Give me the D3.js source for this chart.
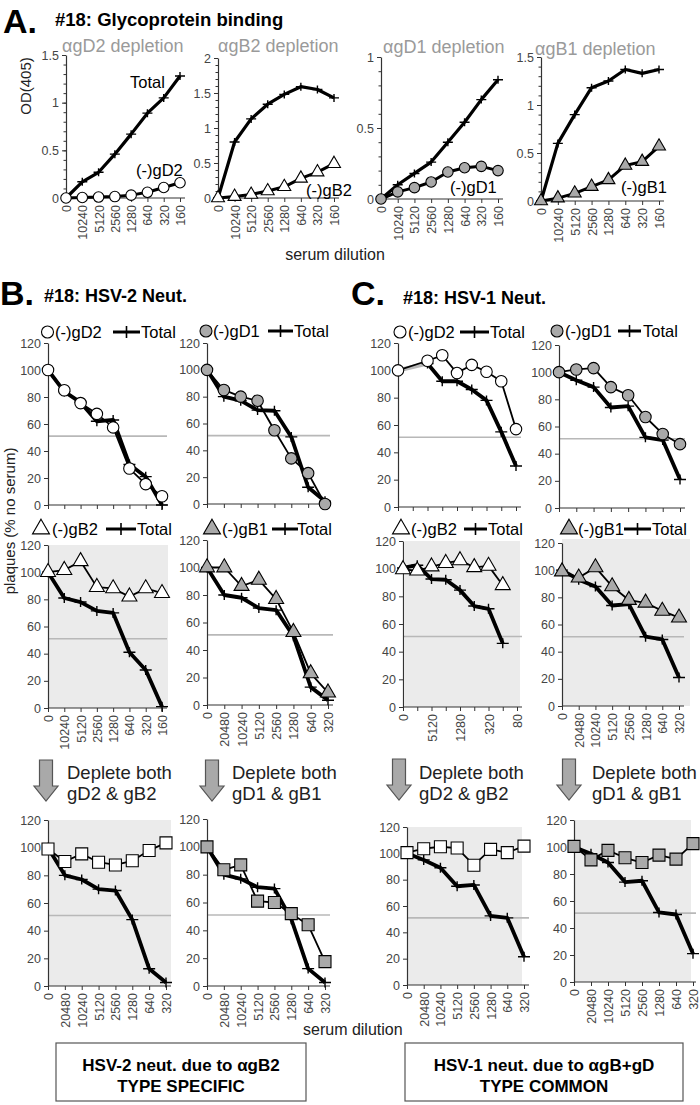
<!DOCTYPE html>
<html><head><meta charset="utf-8">
<script src="https://cdn.jsdelivr.net/npm/d3@7"></script>
<style>body{margin:0;background:#fff}svg{display:block;font-family:"Liberation Sans",Arial,Helvetica,sans-serif}</style>
</head><body><svg id="c" width="700" height="1105"></svg>
<script>
// ---------- categories / tick labels ----------
const dilA = ["0","10240","5120","2560","1280","640","320","160"];
const dil20480 = ["0","20480","10240","5120","2560","1280","640","320"];
const dilC80 = ["0","10240","5120","2560","1280","640","320","160","80"];
const dilC80Shown = ["0","","5120","","1280","","320","","80"];

// ---------- Panel A: OD(405) ----------
const aD2Total = [0, 0.17, 0.27, 0.46, 0.67, 0.89, 1.05, 1.28];
const aD2Dep   = [0, 0.005, 0.01, 0.015, 0.03, 0.06, 0.11, 0.16];
const aB2Total = [0, 0.80, 1.13, 1.34, 1.48, 1.59, 1.55, 1.43];
const aB2Dep   = [0, 0.02, 0.05, 0.10, 0.16, 0.28, 0.37, 0.49];
const aD1Total = [0, 0.10, 0.18, 0.26, 0.40, 0.54, 0.70, 0.84];
const aD1Dep   = [0, 0.05, 0.08, 0.12, 0.19, 0.22, 0.23, 0.20];
const aB1Total = [0, 0.60, 0.90, 1.18, 1.25, 1.37, 1.33, 1.37];
const aB1Dep   = [0, 0.03, 0.08, 0.15, 0.22, 0.37, 0.41, 0.57];

// ---------- Panel B: HSV-2 neut (% no serum) ----------
const bGD2    = [100, 85, 75.5, 67.5, 57.5, 27, 15.5, 6.5];
const bGD2Tot = [100, 84, 76, 62, 63, 30, 21, 0];
const bGD1    = [100, 85, 80, 77, 55, 34, 23, 0];
const bGD1Tot = [100, 80, 77, 70, 69.5, 50, 12.5, 2];
const bGB2    = [100, 101.5, 108, 89, 88, 82, 88, 84.5];
const bGB2Tot = [100, 81, 78, 71.5, 70, 41, 28, 1];
const bGB1    = [100, 100, 86.5, 91, 77, 53, 23, 9];
const bGB1Tot = [100, 80, 78, 70.5, 69, 50, 13, 3.5];
const bBoth2    = [99, 90, 95.5, 89.5, 87.5, 90.5, 98, 103.5];
const bBoth2Tot = [100, 80, 77, 70, 69, 48, 12.5, 2.5];
const bBoth1    = [100, 83.5, 87, 61, 60, 52, 44, 17.5];
const bBoth1Tot = [100, 80, 77, 71, 70, 48, 12.5, 2.5];

// ---------- Panel C: HSV-1 neut (% no serum) ----------
const cGD2    = [100, null, 107, 111, 98, 104, 99, 92, 57];
const cGD2Tot = [100, null, 105, 92, 92, 86, 78, 55, 30];
const cGD1    = [100, 102, 103, 89, 83, 67, 54.5, 47];
const cGD1Tot = [100, 94, 89, 74, 75, 52, 50, 21];
const cGB2    = [99.5, 98.5, 101.5, 104, 106, 101, 102, 88];
const cGB2Tot = [100.5, 102.5, 92.5, 92, 84.5, 73, 71, 46];
const cGB1    = [99, 94.5, 102, 88, 78, 76, 70, 65];
const cGB1Tot = [100, 93, 88, 74, 75, 51, 49, 21];
const cBoth2    = [100.5, 103.5, 105, 104, 91, 103, 100.5, 105.5];
const cBoth2Tot = [100, 95, 89, 75, 76, 52.5, 51, 21.5];
const cBoth1    = [100.5, 90.5, 97.5, 92, 88.5, 94, 91, 102.5];
const cBoth1Tot = [100, 95, 88.5, 74, 75, 51.5, 50, 21];

const neutTicks = [0, 20, 40, 60, 80, 100, 120];
const halfLine = 51;

// ---------- drawing ----------
const svg = d3.select("#c");
const GRAYFILL = "#a9a9a9";
const AXIS = "#333";

function markerPath(shape, size) {
  const t = shape === "circle" ? d3.symbolCircle : shape === "triangle" ? d3.symbolTriangle : d3.symbolSquare;
  let area;
  if (shape === "circle") area = Math.PI * (size / 2) * (size / 2);
  else if (shape === "triangle") area = Math.sqrt(3) / 4 * size * size;
  else area = size * size;
  return d3.symbol(t, area)();
}

function chart(cfg) {
  const g = svg.append("g");
  const n = cfg.cats.length;
  const x = d3.scalePoint().domain(d3.range(n)).range([cfg.x0, cfg.x1]);
  const y = d3.scaleLinear().domain([0, cfg.yMax]).range([cfg.y0, cfg.yTop]);
  const right = cfg.right ?? (cfg.x1 + 5);
  if (cfg.bg) {
    g.append("rect").attr("x", cfg.bgLeft ?? cfg.x0).attr("y", cfg.bgTop ?? cfg.yTop)
      .attr("width", (cfg.bgRight ?? right) - (cfg.bgLeft ?? cfg.x0))
      .attr("height", cfg.y0 - (cfg.bgTop ?? cfg.yTop)).attr("fill", "#ebebeb");
  }
  if (cfg.thresh != null) {
    g.append("line").attr("x1", cfg.x0).attr("x2", right)
      .attr("y1", y(cfg.thresh)).attr("y2", y(cfg.thresh))
      .attr("stroke", "#b8b8b8").attr("stroke-width", 1.6);
  }
  if (cfg.minor) {
    const mv = d3.range(0, cfg.yMax + 1e-9, cfg.minor);
    g.append("g").attr("transform", `translate(${cfg.x0},0)`)
      .call(d3.axisLeft(y).tickValues(mv).tickSize(2.5).tickSizeOuter(0).tickFormat(""))
      .call(s => s.select(".domain").remove())
      .call(s => s.selectAll("line").attr("stroke", AXIS));
  }
  g.append("g").attr("transform", `translate(${cfg.x0},0)`)
    .call(d3.axisLeft(y).tickValues(cfg.yTicks).tickSize(4).tickSizeOuter(0).tickPadding(3)
      .tickFormat(cfg.yFmt || (d => d)))
    .call(s => s.select(".domain").attr("stroke", AXIS).attr("stroke-width", 1.2))
    .call(s => s.selectAll("line").attr("stroke", AXIS))
    .call(s => s.selectAll("text").attr("fill", "#454545").attr("font-size", 12.5)
      .attr("font-family", '"Liberation Sans",Arial,sans-serif'));
  const xa = g.append("g").attr("transform", `translate(0,${cfg.y0})`)
    .call(d3.axisBottom(x).tickSize(4).tickSizeOuter(0)
      .tickFormat(i => cfg.labels ? cfg.labels[i] : ""));
  xa.select(".domain").remove();
  xa.selectAll("line").attr("stroke", AXIS);
  xa.selectAll("text").attr("transform", "rotate(-90)").attr("text-anchor", "end")
    .attr("x", -7).attr("y", 0).attr("dy", "0.36em")
    .attr("fill", "#454545").attr("font-size", 12.5)
    .attr("font-family", '"Liberation Sans",Arial,sans-serif');
  g.append("line").attr("x1", cfg.x0).attr("x2", right).attr("y1", cfg.y0).attr("y2", cfg.y0)
    .attr("stroke", AXIS).attr("stroke-width", 1.2);

  const line = d3.line().defined(d => d != null).x((d, i) => x(i)).y(d => y(d));

  const tot = cfg.total;
  const totW = cfg.totW ?? 3.8;
  let last = null;
  tot.forEach((v, i) => {
    if (v == null) return;
    if (last != null && i - last > 1) {
      g.append("line").attr("x1", x(last)).attr("y1", y(tot[last])).attr("x2", x(i)).attr("y2", y(v))
        .attr("stroke", "#b8b8b8").attr("stroke-width", totW + 0.5);
    }
    last = i;
  });
  g.append("path").attr("d", line(tot)).attr("fill", "none").attr("stroke", "#000")
    .attr("stroke-width", totW).attr("stroke-linejoin", "round");
  const cs = cfg.crossSize ?? 6;
  tot.forEach((v, i) => {
    if (v == null) return;
    g.append("path").attr("transform", `translate(${x(i)},${y(v)})`)
      .attr("d", `M${-cs},0H${cs}M0,${-cs + 1}V${cs - 1}`)
      .attr("stroke", "#000").attr("stroke-width", 1.4);
  });

  const dep = cfg.dep;
  const depData = dep.vals.map((v, i) => ({ v, i })).filter(d => d.v != null);
  g.append("path").attr("d", d3.line().x(d => x(d.i)).y(d => y(d.v))(depData))
    .attr("fill", "none").attr("stroke", "#000").attr("stroke-width", cfg.depW ?? 1.8)
    .attr("stroke-linejoin", "round");
  depData.forEach(d => {
    g.append("path").attr("transform", `translate(${x(d.i)},${y(d.v)})`)
      .attr("d", markerPath(dep.shape, dep.size))
      .attr("fill", dep.fill).attr("stroke", "#000").attr("stroke-width", 1.1);
  });
  return g;
}

function text(x, y, str, opts = {}) {
  const t = svg.append("text").attr("x", x).attr("y", y).text(str)
    .attr("font-size", opts.size || 16).attr("fill", opts.fill || "#000")
    .attr("font-weight", opts.bold ? "bold" : "normal")
    .attr("text-anchor", opts.anchor || "start");
  if (opts.rotate) t.attr("transform", `rotate(${opts.rotate},${x},${y})`);
  return t;
}

function legend(cx, cy, shape, fill, size, label, tx, lx1, lx2, totX) {
  svg.append("path").attr("transform", `translate(${cx},${cy})`).attr("d", markerPath(shape, size))
    .attr("fill", fill).attr("stroke", "#000").attr("stroke-width", 1.1);
  text(tx, cy + 6, label, { size: 16.5 });
  svg.append("line").attr("x1", lx1).attr("x2", lx2).attr("y1", cy).attr("y2", cy)
    .attr("stroke", "#000").attr("stroke-width", 3);
  const m = (lx1 + lx2) / 2;
  svg.append("line").attr("x1", m).attr("x2", m).attr("y1", cy - 6).attr("y2", cy + 6)
    .attr("stroke", "#000").attr("stroke-width", 1.6);
  text(totX, cy + 6, "Total", { size: 16.5 });
}

function arrow(cx, top, tip) {
  const sw = 6.5, hw = 12, shaftEnd = tip - 15;
  const p = `M${cx - sw},${top}H${cx + sw}V${shaftEnd}H${cx + hw}L${cx},${tip}L${cx - hw},${shaftEnd}H${cx - sw}Z`;
  svg.append("path").attr("d", p).attr("fill", "#a9a9a9").attr("stroke", "#555").attr("stroke-width", 1.2);
}

// ---------- Panel A ----------
text(3, 33, "A.", { size: 34, bold: true });
text(55, 26, "#18: Glycoprotein binding", { size: 18.5, bold: true });
text(31, 86, "OD(405)", { size: 15, anchor: "middle", rotate: -90, fill: "#222" });

const aCommon = { cats: dilA, labels: dilA, totW: 3.2, depW: 3, crossSize: 5, minor: 0.1 };
chart({ ...aCommon, x0: 66, x1: 180, yTop: 55, y0: 198, yMax: 1.5, yTicks: [0, 0.5, 1, 1.5],
  total: aD2Total, dep: { vals: aD2Dep, shape: "circle", fill: "#fff", size: 10.5 } });
chart({ ...aCommon, x0: 218, x1: 334, yTop: 58, y0: 198, yMax: 2, yTicks: [0, 0.5, 1, 1.5, 2],
  total: aB2Total, dep: { vals: aB2Dep, shape: "triangle", fill: "#fff", size: 13 } });
chart({ ...aCommon, x0: 381, x1: 498, yTop: 57, y0: 199, yMax: 1, yTicks: [0, 0.5, 1],
  total: aD1Total, dep: { vals: aD1Dep, shape: "circle", fill: GRAYFILL, size: 10.5 } });
chart({ ...aCommon, x0: 541, x1: 659, yTop: 57, y0: 201, yMax: 1.5, yTicks: [0, 0.5, 1, 1.5],
  total: aB1Total, dep: { vals: aB1Dep, shape: "triangle", fill: GRAYFILL, size: 13 } });

const gcol = "#9a9a9a";
text(62, 52, "\u03b1gD2 depletion", { size: 18, fill: gcol });
text(218, 52, "\u03b1gB2 depletion", { size: 18, fill: gcol });
text(383, 53, "\u03b1gD1 depletion", { size: 18, fill: gcol });
text(535, 55, "\u03b1gB1 depletion", { size: 18, fill: gcol });
text(130, 88, "Total", { size: 16.5 });
text(136, 176, "(-)gD2", { size: 16.5 });
text(306, 196, "(-)gB2", { size: 16.5 });
text(450, 193, "(-)gD1", { size: 16.5 });
text(621, 193, "(-)gB1", { size: 16.5 });
text(335, 260, "serum dilution", { size: 16, anchor: "middle", fill: "#222" });

// ---------- Panel B / C ----------
text(0, 305, "B.", { size: 34, bold: true });
text(44, 302, "#18: HSV-2 Neut.", { size: 18, bold: true });
text(351, 305, "C.", { size: 34, bold: true });
text(403, 304, "#18: HSV-1 Neut.", { size: 18, bold: true });
text(15, 521, "plaques (% no serum)", { size: 15, anchor: "middle", rotate: -90, fill: "#222" });

const nCommon = { yMax: 120, yTicks: neutTicks, thresh: halfLine };
// row 1
chart({ ...nCommon, cats: dilA, x0: 48, x1: 162, yTop: 343, y0: 505,
  total: bGD2Tot, dep: { vals: bGD2, shape: "circle", fill: "#fff", size: 11.5 } });
chart({ ...nCommon, cats: dilA, x0: 207, x1: 325, yTop: 343, y0: 504,
  total: bGD1Tot, dep: { vals: bGD1, shape: "circle", fill: GRAYFILL, size: 11.5 } });
chart({ ...nCommon, cats: dilC80, x0: 398, x1: 516, yTop: 343, y0: 507,
  total: cGD2Tot, dep: { vals: cGD2, shape: "circle", fill: "#fff", size: 11.5 } });
chart({ ...nCommon, cats: dil20480, x0: 559, x1: 680, yTop: 345, y0: 508,
  total: cGD1Tot, dep: { vals: cGD1, shape: "circle", fill: GRAYFILL, size: 11.5 } });
legend(47.5, 332, "circle", "#fff", 12, "(-)gD2", 55, 113, 140, 141);
legend(206, 331, "circle", GRAYFILL, 12, "(-)gD1", 213, 268, 293, 294);
legend(400, 332, "circle", "#fff", 12, "(-)gD2", 408, 460, 489, 490);
legend(557, 331, "circle", GRAYFILL, 12, "(-)gD1", 565, 618, 641, 643);

// row 2
chart({ ...nCommon, cats: dilA, labels: dilA, x0: 48, x1: 162, yTop: 545, y0: 708, bg: true, bgRight: 168,
  total: bGB2Tot, dep: { vals: bGB2, shape: "triangle", fill: "#fff", size: 15 } });
chart({ ...nCommon, cats: dil20480, labels: dil20480, x0: 207, x1: 328, yTop: 540, y0: 705,
  total: bGB1Tot, dep: { vals: bGB1, shape: "triangle", fill: GRAYFILL, size: 15 } });
chart({ ...nCommon, cats: dilC80, labels: dilC80Shown, x0: 403, x1: 517, yTop: 541, y0: 707, bg: true, bgLeft: 405, bgRight: 520,
  total: cGB2Tot, dep: { vals: cGB2, shape: "triangle", fill: "#fff", size: 15 } });
chart({ ...nCommon, cats: dil20480, labels: dil20480, x0: 562, x1: 679, yTop: 543, y0: 706, bg: true, bgTop: 539, bgRight: 690,
  total: cGB1Tot, dep: { vals: cGB1, shape: "triangle", fill: GRAYFILL, size: 15 } });
legend(41, 529, "triangle", "#fff", 17, "(-)gB2", 52, 106, 136, 137);
legend(212, 529, "triangle", GRAYFILL, 17, "(-)gB1", 222, 272, 298, 297);
legend(401, 529, "triangle", "#fff", 17, "(-)gB2", 411, 464, 487, 488);
legend(569, 529, "triangle", GRAYFILL, 17, "(-)gB1", 578, 624, 651, 652);

// arrows
arrow(46, 760, 801); arrow(212, 760, 801); arrow(399, 759, 800); arrow(569, 759, 800);
text(67, 779, "Deplete both", { size: 18.5, fill: "#222" });
text(67, 800, "gD2 & gB2", { size: 18.5, fill: "#222" });
text(232, 779, "Deplete both", { size: 18.5, fill: "#222" });
text(232, 800, "gD1 & gB1", { size: 18.5, fill: "#222" });
text(419, 779, "Deplete both", { size: 18.5, fill: "#222" });
text(419, 800, "gD2 & gB2", { size: 18.5, fill: "#222" });
text(592, 779, "Deplete both", { size: 18.5, fill: "#222" });
text(592, 800, "gD1 & gB1", { size: 18.5, fill: "#222" });

// row 3
chart({ ...nCommon, cats: dil20480, labels: dil20480, x0: 48, x1: 166, yTop: 820, y0: 986, bg: true, bgRight: 171,
  total: bBoth2Tot, dep: { vals: bBoth2, shape: "square", fill: "#fff", size: 12 } });
chart({ ...nCommon, cats: dil20480, labels: dil20480, x0: 207, x1: 325, yTop: 819, y0: 986,
  total: bBoth1Tot, dep: { vals: bBoth1, shape: "square", fill: GRAYFILL, size: 12 } });
chart({ ...nCommon, cats: dil20480, labels: dil20480, x0: 407, x1: 524, yTop: 827, y0: 985, bg: true, bgRight: 522,
  total: cBoth2Tot, dep: { vals: cBoth2, shape: "square", fill: "#fff", size: 12 } });
chart({ ...nCommon, cats: dil20480, labels: dil20480, x0: 574, x1: 693, yTop: 820, y0: 982, bg: true, bgRight: 691, right: 696,
  total: cBoth1Tot, dep: { vals: cBoth1, shape: "square", fill: GRAYFILL, size: 12 } });
text(303, 1035, "serum dilution", { size: 16, fill: "#222" });

// summary boxes
svg.append("rect").attr("x", 56).attr("y", 1043).attr("width", 250).attr("height", 58)
  .attr("fill", "#fff").attr("stroke", "#555").attr("stroke-width", 1.2);
svg.append("rect").attr("x", 405).attr("y", 1043).attr("width", 278).attr("height", 58)
  .attr("fill", "#fff").attr("stroke", "#555").attr("stroke-width", 1.2);
text(181, 1071, "HSV-2 neut. due to \u03b1gB2", { size: 17, bold: true, anchor: "middle" });
text(181, 1092, "TYPE SPECIFIC", { size: 17, bold: true, anchor: "middle" });
text(544, 1071, "HSV-1 neut. due to \u03b1gB+gD", { size: 17, bold: true, anchor: "middle" });
text(544, 1092, "TYPE COMMON", { size: 17, bold: true, anchor: "middle" });
</script></body></html>
